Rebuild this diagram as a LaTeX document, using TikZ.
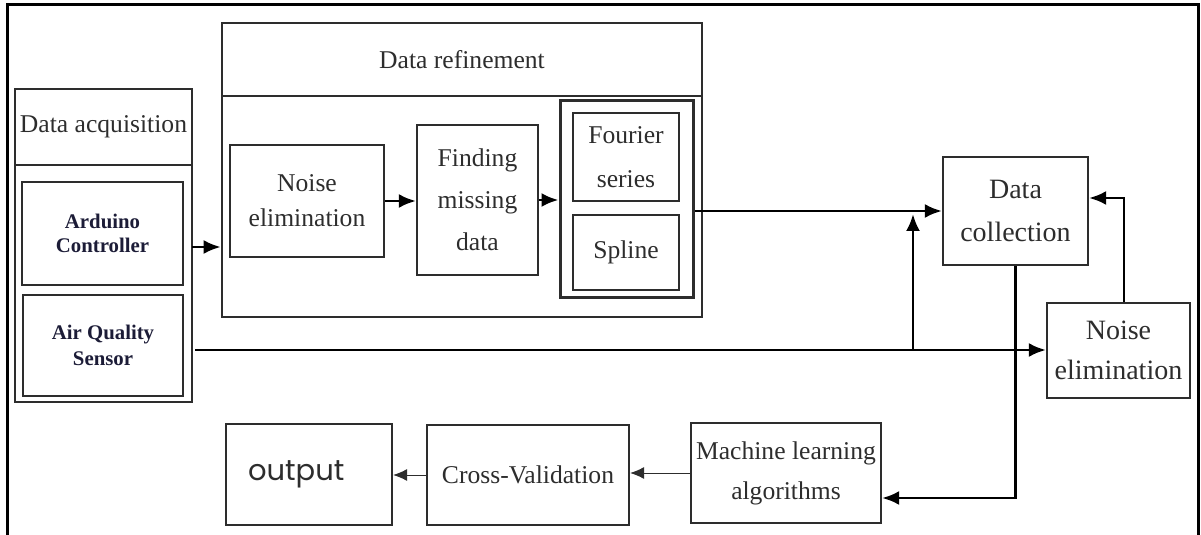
\documentclass[tikz,border=0pt]{standalone}
\usepackage{fontspec}
\setmainfont{Liberation Serif}
\newfontfamily\outfont{Poppins}
\usepackage{tikz}
\usetikzlibrary{calc}
\usetikzlibrary{arrows.meta}
\usetikzlibrary{positioning}
\definecolor{inkgray}{RGB}{45, 45, 45}
\definecolor{sensorink}{RGB}{28, 28, 55}

\tikzset{
  blk/.style={draw=inkgray, line width=1.1pt, align=center, inner sep=0pt, text=inkgray,
              font=\fontsize{12.8}{20}\selectfont},
  sensorblk/.style={blk, line width=1.4pt, text=sensorink,
              font=\fontsize{10.4}{12}\selectfont\bfseries},
  flow/.style={-{Latex[length=8.5pt,width=7pt]}, line width=1.4pt, black},
  thinflow/.style={-{Latex[length=7pt,width=6pt]}, line width=0.5pt, inkgray},
}

\begin{document}
\begin{tikzpicture}[x=0.5pt, y=-0.5pt]
            \useasboundingbox (0,0) rectangle (1201,535);
            \draw[line width=1.5pt] (7,535) -- (7,5) -- (1198,5) -- (1198,535);
            % acquisition
            \node[blk, line width=1.3pt, minimum width=88.5pt, minimum height=38pt] (acqhead) at (103.5,127) {Data acquisition};
            \node[blk, line width=1.4pt, minimum width=88.5pt, minimum height=118.5pt] (acqbody) at (103.5,283.5) {};
            \node[sensorblk, minimum width=80.5pt, minimum height=51.5pt] (arduino) at (102.5,233.5) {Arduino\\Controller};
            \node[sensorblk, minimum width=80pt, minimum height=50.5pt, font=\fontsize{10.4}{13}\selectfont\bfseries] (airq) at (103,345.5) {Air Quality\\Sensor};
            % refinement
            \node[blk, line width=1.3pt, minimum width=240pt, minimum height=36.5pt] (refhead) at (462,59.5) {Data refinement};
            \node[blk, line width=1.3pt, minimum width=240pt, minimum height=110.5pt] (refbody) at (462,206.5) {};
            \node[blk, minimum width=77pt, minimum height=56pt, font=\fontsize{12.8}{17.5}\selectfont] (noise1) at (307,201) {Noise\\elimination};
            \node[blk, minimum width=60.5pt, minimum height=75pt, font=\fontsize{12.8}{21}\selectfont] (finding) at (477.5,200) {Finding\\missing\\data};
            \node[blk, line width=1.5pt, minimum width=66.5pt, minimum height=98pt] (interp) at (626.5,199) {};
            \node[blk, minimum width=53pt, minimum height=44pt, font=\fontsize{12.8}{22}\selectfont] (fourier) at (626,157) {Fourier\\series};
            \node[blk, minimum width=53pt, minimum height=37.5pt]    (spline) at (626,252.5)    {Spline};
            % collection and learning
            \node[blk, minimum width=72.5pt, minimum height=54pt, font=\fontsize{14}{21.5}\selectfont] (collect) at (1015.5,211) {Data\\collection};
            \node[blk, minimum width=71.5pt, minimum height=47.5pt, font=\fontsize{14}{20}\selectfont] (noise2) at (1118.5,350.5) {Noise\\elimination};
            \node[blk, minimum width=95pt, minimum height=50pt]      (mlalg) at (786,473)       {Machine learning\\algorithms};
            \node[blk, minimum width=101pt, minimum height=50pt]     (crossval) at (528,475)    {Cross-Validation};
            \node[blk, minimum height=50.5pt, text width=61pt, inner xsep=11pt, align=left,
                  font=\outfont\fontsize{14.5}{16}\selectfont] (output) at (309,474.5) {\raisebox{2pt}{output}};
            % connectors
            \coordinate (ardout) at (192,247);
            \coordinate (airout) at (195,350);
            \coordinate (split)  at (913,350);
            \draw[flow] (ardout) -- (ardout -| refbody.west);
            \draw[flow] (noise1.east) -- (noise1.east -| finding.west);
            \draw[flow] (finding.east) -- (finding.east -| interp.west);
            \draw[flow] (collect.west -| interp.east) -- (collect.west);
            \draw[flow] (airout) -- (airout -| noise2.west);
            \draw[flow, shorten >=1.5pt] (split) -- (split |- collect.west);
            \draw[flow] ([xshift=2.75pt]noise2.north) |- ([yshift=6.5pt]collect.east);
            \draw[flow] (collect.south) |- ([yshift=-12.5pt]mlalg.east);
            \draw[thinflow] (mlalg.west) -- (mlalg.west -| crossval.east);
            \draw[thinflow] (crossval.west) -- (crossval.west -| output.east);
\end{tikzpicture}
\end{document}
